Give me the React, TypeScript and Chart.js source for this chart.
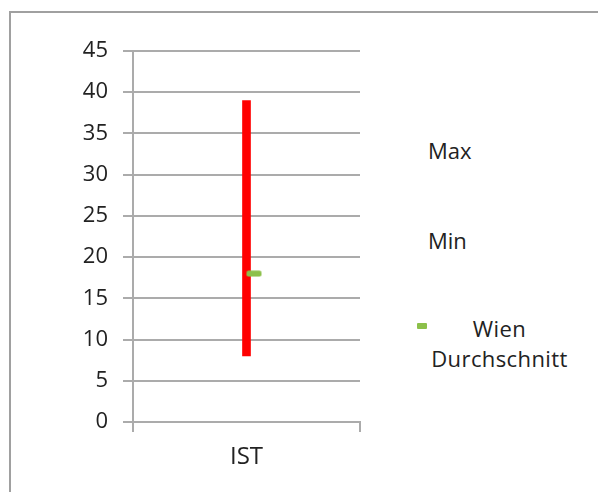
import React, { useEffect, useRef } from "react";
import { Chart, registerables } from "chart.js";

Chart.register(...registerables);

const categories = ["IST"];
const maxValues = [39];
const minValues = [8];
const wienAvg = [18];
const yTicks = [0, 5, 10, 15, 20, 25, 30, 35, 40, 45];
const legendLabels = ["Max", "Min", "Wien Durchschnitt"];

const FONT = "'Open Sans', sans-serif";
const GRID = "#ababab";
const GREEN = "#8cc04a";
const TEXT = "#222222";

function makeDash(): HTMLCanvasElement {
  const c = document.createElement("canvas");
  c.width = 32;
  c.height = 7;
  const ctx = c.getContext("2d")!;
  ctx.fillStyle = GREEN;
  ctx.beginPath();
  (ctx as any).roundRect ? (ctx as any).roundRect(16, 0.5, 15, 6, 2) : ctx.rect(16, 0.5, 15, 6);
  ctx.fill();
  return c;
}

export default function App() {
  const ref = useRef<HTMLCanvasElement | null>(null);

  useEffect(() => {
    if (!ref.current) return;
    const chart = new Chart(ref.current, {
      type: "bar",
      data: {
        labels: categories,
        datasets: [
          {
            type: "bar",
            label: "range",
            data: categories.map((_, i) => [minValues[i], maxValues[i]]) as any,
            backgroundColor: "#ff0000",
            borderWidth: 0,
            barThickness: 8,
            order: 2,
          },
          {
            type: "line",
            label: legendLabels[2],
            data: wienAvg,
            showLine: false,
            pointStyle: makeDash() as any,
            pointRadius: 8,
            order: 1,
          } as any,
        ],
      },
      options: {
        animation: false,
        responsive: false,
        maintainAspectRatio: false,
        layout: { padding: { left: 0, right: 20, top: 51, bottom: 0 } },
        plugins: {
          legend: { display: false },
          tooltip: { enabled: false },
        },
        scales: {
          x: {
            offset: true,
            grid: {
              display: true,
              offset: true,
              drawOnChartArea: false,
              drawTicks: true,
              tickLength: 10,
              color: GRID,
              lineWidth: 2,
            },
            border: { display: true, color: GRID, width: 2 },
            ticks: {
              color: TEXT,
              font: { family: FONT, size: 24 },
              padding: 11,
            },
            afterFit: (s: any) => {
              s.height = 70;
            },
          },
          y: {
            min: 0,
            max: 45,
            afterBuildTicks: (s: any) => {
              s.ticks = yTicks.map((v) => ({ value: v }));
            },
            grid: {
              color: GRID,
              lineWidth: 2,
              drawTicks: true,
              tickLength: 10,
            },
            border: { display: true, color: GRID, width: 2 },
            ticks: {
              color: TEXT,
              font: { family: FONT, size: 22 },
              padding: 15,
            },
            afterFit: (s: any) => {
              s.width = 133;
            },
          },
        },
      },
    });
    return () => chart.destroy();
  }, []);

  const textStyle: React.CSSProperties = {
    position: "absolute",
    fontFamily: FONT,
    fontSize: 22,
    color: TEXT,
    lineHeight: "30px",
    whiteSpace: "nowrap",
  };

  return (
    <div style={{ position: "absolute", left: 0, top: 0, width: 598, height: 492, background: "#fff", overflow: "hidden" }}>
      <div
        style={{
          position: "absolute",
          left: 9,
          top: 11,
          width: 640,
          height: 540,
          borderLeft: "2px solid #a0a0a0",
          borderTop: "2px solid #a0a0a0",
        }}
      />
      <canvas ref={ref} width={380} height={492} style={{ position: "absolute", left: 0, top: 0, width: 380, height: 492 }} />
      <div style={{ ...textStyle, left: 428, top: 135 }}>{legendLabels[0]}</div>
      <div style={{ ...textStyle, left: 428, top: 225 }}>{legendLabels[1]}</div>
      <div style={{ position: "absolute", left: 417, top: 323, width: 10, height: 6, background: GREEN, borderRadius: 1 }} />
      <div style={{ ...textStyle, left: 426, top: 313, width: 147, textAlign: "center", whiteSpace: "normal", letterSpacing: "0.4px" }}>
        {legendLabels[2].split(" ")[0]}
        <br />
        {legendLabels[2].split(" ")[1]}
      </div>
    </div>
  );
}
